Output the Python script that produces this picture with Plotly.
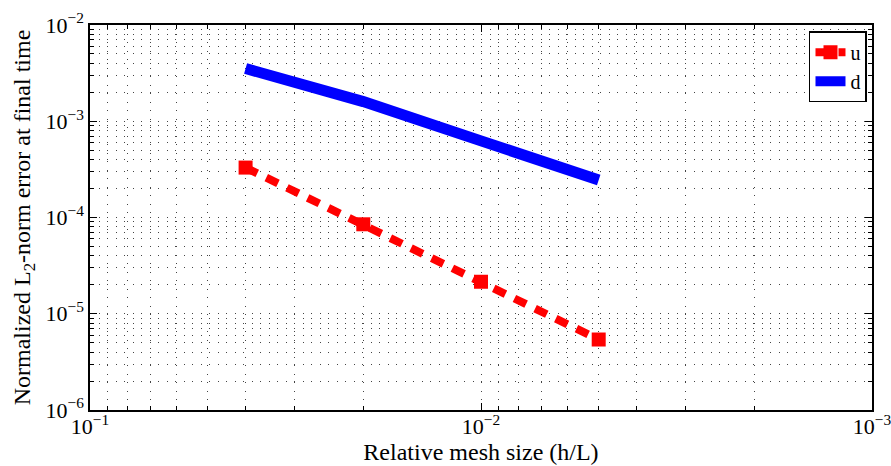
import plotly.graph_objects as go

# Convergence data: relative mesh size vs normalized L2-norm error
mesh_size = [0.04, 0.02, 0.01, 0.005]
err_u = [3.3e-4, 8.5e-5, 2.15e-5, 5.4e-6]
err_d = [3.53e-3, 1.6e-3, 6.25e-4, 2.45e-4]

x_ticks = [1e-1, 1e-2, 1e-3]
x_tick_text = ["10<sup>−1</sup>", "10<sup>−2</sup>", "10<sup>−3</sup>"]
y_ticks = [1e-6, 1e-5, 1e-4, 1e-3, 1e-2]
y_tick_text = ["10<sup>−6</sup>", "10<sup>−5</sup>", "10<sup>−4</sup>",
               "10<sup>−3</sup>", "10<sup>−2</sup>"]

FONT = "Liberation Serif, Times New Roman, serif"

def minor_vals(lo_exp, hi_exp):
    return [m * 10.0 ** e for e in range(lo_exp, hi_exp) for m in range(2, 10)]

fig = go.Figure()
fig.add_trace(go.Scatter(
    x=mesh_size, y=err_u, name="u", mode="lines+markers",
    line=dict(color="#ff0000", width=8, dash="13px,10px"),
    marker=dict(symbol="square", size=14, color="#ff0000"),
))
fig.add_trace(go.Scatter(
    x=mesh_size, y=err_d, name="d", mode="lines",
    line=dict(color="#0000ff", width=11),
))

GRID_DASH = "1px,7.5px"
GRID_COLOR = "#444"

axis_common = dict(
    showline=True, linecolor="black", linewidth=1.5, mirror="allticks",
    ticks="inside", ticklen=7, tickcolor="black", tickwidth=1,
    showgrid=True, gridcolor=GRID_COLOR, gridwidth=1, griddash=GRID_DASH,
    zeroline=False, automargin=False, ticklabeloverflow="allow",
    tickfont=dict(family=FONT, size=22, color="black"),
)

def minor_axis(lo, hi):
    return dict(tickmode="array", tickvals=minor_vals(lo, hi), ticks="inside",
                ticklen=4, tickcolor="black", showgrid=True,
                gridcolor=GRID_COLOR, gridwidth=1, griddash=GRID_DASH)

fig.update_xaxes(
    type="log", range=[-1, -3],
    tickmode="array", tickvals=x_ticks, ticktext=x_tick_text,
    ticklabelstandoff=-4,
    minor=minor_axis(-3, -1),
    title=dict(text="Relative mesh size (h/L)", standoff=4,
               font=dict(family=FONT, size=24, color="black")),
    **axis_common,
)
fig.update_yaxes(
    type="log", range=[-6, -2],
    tickmode="array", tickvals=y_ticks, ticktext=y_tick_text,
    minor=minor_axis(-6, -2),
    title=dict(text="Normalized L<sub>2</sub>-norm error at final time", standoff=8,
               font=dict(family=FONT, size=24, color="black")),
    **axis_common,
)

fig.update_layout(
    width=891, height=466,
    margin=dict(l=90, r=19, t=25, b=56),
    paper_bgcolor="white", plot_bgcolor="white",
    font=dict(family=FONT, size=24, color="black"),
    legend=dict(
        x=0.9936, y=0.984, xanchor="right", yanchor="top",
        bgcolor="white", bordercolor="black", borderwidth=1.5,
        font=dict(family=FONT, size=20, color="black"),
        itemwidth=30, tracegroupgap=0,
    ),
    showlegend=True,
)

fig.write_html("out.html")
